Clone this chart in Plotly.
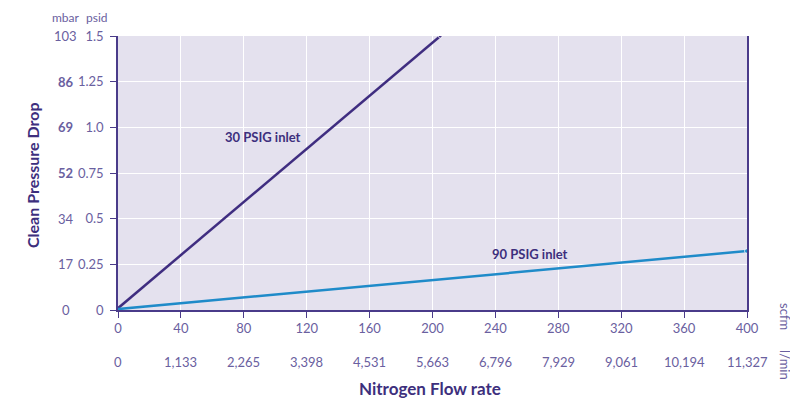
import plotly.graph_objects as go

# Data
scfm_ticks = [0, 40, 80, 120, 160, 200, 240, 280, 320, 360, 400]
lmin_labels = ["0", "1,133", "2,265", "3,398", "4,531", "5,663", "6,796", "7,929", "9,061", "10,194", "11,327"]
psid_ticks = [0, 0.25, 0.5, 0.75, 1.0, 1.25, 1.5]
psid_labels = ["0", "0.25", "0.5", "0.75", "1.0", "1.25", "1.5"]
mbar_labels = ["0", "17", "34", "<b>52</b>", "<b>69</b>", "<b>86</b>", "103"]

s30_x = [0, 205]
s30_y = [0.01, 1.5]
s90_x = [0, 400]
s90_y = [0.005, 0.323]

DARK = "#3d2f7d"
TICK = "#6a60a0"
BLUE = "#1f8bc9"
FONT = "Lato, 'Open Sans', sans-serif"
TS = 13

fig = go.Figure()
fig.add_trace(go.Scatter(x=s30_x, y=s30_y, mode="lines+markers",
                         line=dict(color="#3f2d80", width=2.5),
                         marker=dict(size=[0, 4], color="#3f2d80"),
                         hoverinfo="skip", showlegend=False))
fig.add_trace(go.Scatter(x=s90_x, y=s90_y, mode="lines+markers",
                         line=dict(color=BLUE, width=2.5),
                         marker=dict(size=[0, 5], color=BLUE),
                         hoverinfo="skip", showlegend=False))

fig.update_layout(
    width=790, height=394,
    margin=dict(l=110, r=51, t=28, b=92),
    paper_bgcolor="white",
    plot_bgcolor="#e4e1ee",
    font=dict(family=FONT, color=TICK, size=TS),
    xaxis=dict(range=[0, 400], tickvals=scfm_ticks, ticktext=[str(v) for v in scfm_ticks],
               showgrid=True, gridcolor="white", gridwidth=1.2,
               showline=True, linecolor="#4a3b8a", linewidth=1.5,
               ticks="outside", ticklen=6, tickcolor="#4a3b8a", tickwidth=1.2,
               tickfont=dict(size=TS, color=TICK), zeroline=False, fixedrange=True),
    yaxis=dict(range=[0, 1.5], tickvals=psid_ticks, ticktext=psid_labels,
               showgrid=True, gridcolor="white", gridwidth=1.2,
               showline=True, linecolor="#4a3b8a", linewidth=1.5, mirror=True,
               ticks="outside", ticklen=6, tickcolor="#4a3b8a", tickwidth=1.2,
               ticklabelstandoff=4,
               tickfont=dict(size=TS, color=TICK), zeroline=False, fixedrange=True),
)

annotations = []
for v, lab in zip(scfm_ticks, lmin_labels):
    annotations.append(dict(x=v, y=-0.19, xref="x", yref="paper", text=lab, showarrow=False,
                            font=dict(size=TS, color=TICK), xanchor="center", yanchor="middle"))
for v, lab in zip(psid_ticks, mbar_labels):
    annotations.append(dict(x=-0.083, y=v, xref="paper", yref="y", text=lab, showarrow=False,
                            font=dict(size=TS, color=TICK), xanchor="center", yanchor="middle"))
annotations += [
    dict(x=-0.083, y=1.068, xref="paper", yref="paper", text="mbar", showarrow=False,
         font=dict(size=12, color=TICK), xanchor="center", yanchor="middle"),
    dict(x=-0.033, y=1.068, xref="paper", yref="paper", text="psid", showarrow=False,
         font=dict(size=12, color=TICK), xanchor="center", yanchor="middle"),
    dict(x=-0.135, y=0.493, xref="paper", yref="paper", text="<b>Clean Pressure Drop</b>",
         showarrow=False, textangle=-90, font=dict(size=16, color=DARK),
         xanchor="center", yanchor="middle"),
    dict(x=0.496, y=-0.288, xref="paper", yref="paper", text="<b>Nitrogen Flow rate</b>",
         showarrow=False, font=dict(size=17, color=DARK), xanchor="center", yanchor="middle"),
    dict(x=1.06, y=-0.025, xref="paper", yref="paper", text="scfm", showarrow=False,
         textangle=90, font=dict(size=TS, color=TICK), xanchor="center", yanchor="middle"),
    dict(x=1.06, y=-0.2, xref="paper", yref="paper", text="l/min", showarrow=False,
         textangle=90, font=dict(size=TS, color=TICK), xanchor="center", yanchor="middle"),
    dict(x=92, y=0.947, xref="x", yref="y", text="<b>30 PSIG inlet</b>", showarrow=False,
         font=dict(size=13, color=DARK), xanchor="center", yanchor="middle"),
    dict(x=262, y=0.307, xref="x", yref="y", text="<b>90 PSIG inlet</b>", showarrow=False,
         font=dict(size=13, color=DARK), xanchor="center", yanchor="middle"),
]
fig.update_layout(annotations=annotations)

fig.write_html("out.html")
